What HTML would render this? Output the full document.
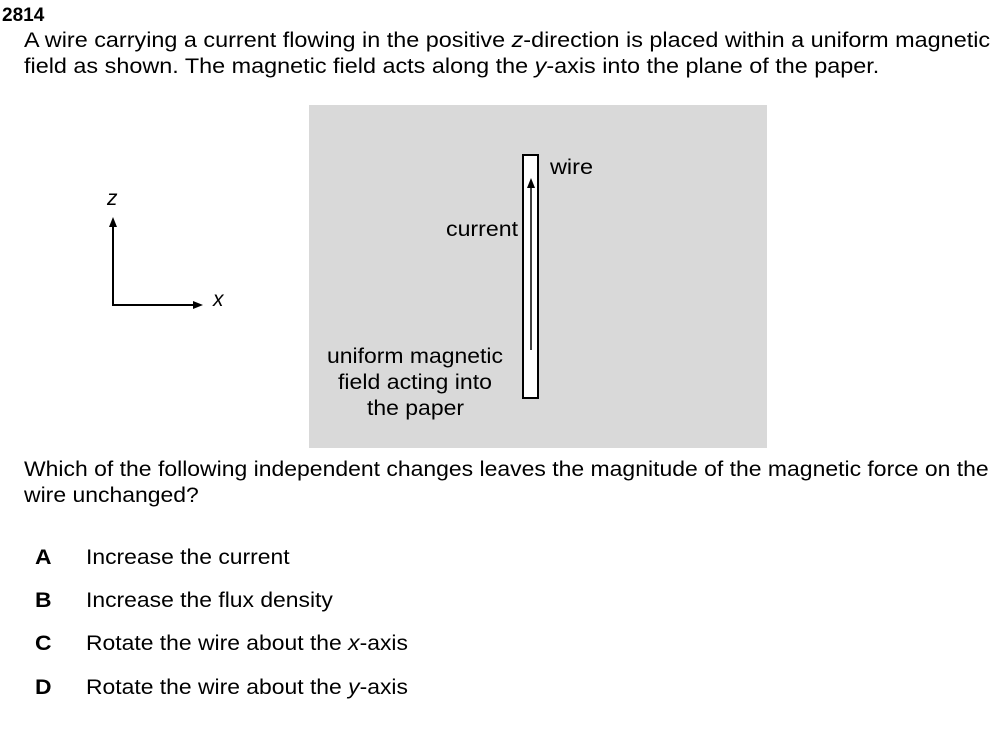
<!DOCTYPE html>
<html><head><meta charset="utf-8"><style>
body{margin:0;width:1001px;height:731px;background:#fff;font-family:"Liberation Sans",Arial,sans-serif;color:#000;position:relative;overflow:hidden}
.t{position:absolute;white-space:nowrap;font-size:21px;line-height:26px;transform:scaleX(1.09);transform-origin:0 0}
</style></head><body>
<div class="t" style="left:2px;top:3px;font-weight:bold;font-size:19px;transform:none">2814</div>
<div class="t" style="left:24px;top:28px;transform:scaleX(1.114)">A wire carrying a current flowing in the positive <i>z</i>-direction is placed within a uniform magnetic<br>field as shown. The magnetic field acts along the <i>y</i>-axis into the plane of the paper.</div>
<svg style="position:absolute;left:0;top:0" width="1001" height="731">
<rect x="309" y="105" width="458" height="343" fill="#d9d9d9"/>
<rect x="523" y="155" width="15" height="243" fill="#fff" stroke="#000" stroke-width="2"/>
<line x1="531" y1="350" x2="531" y2="184" stroke="#000" stroke-width="1.5"/>
<polygon points="531,178 527,188 535,188" fill="#000"/>
<line x1="113" y1="305" x2="113" y2="224" stroke="#000" stroke-width="2"/>
<polygon points="113,217 109,227 117,227" fill="#000"/>
<line x1="112" y1="305" x2="196" y2="305" stroke="#000" stroke-width="2"/>
<polygon points="203,305 193,301 193,309" fill="#000"/>
<text x="107" y="205" font-family="Liberation Sans" font-style="italic" font-size="21">z</text>
<text x="213" y="306" font-family="Liberation Sans" font-style="italic" font-size="21">x</text>
<text x="550" y="174" font-family="Liberation Sans" font-size="21" textLength="43" lengthAdjust="spacingAndGlyphs">wire</text>
<text x="446" y="236" font-family="Liberation Sans" font-size="21" textLength="72" lengthAdjust="spacingAndGlyphs">current</text>
<text x="327" y="363" font-family="Liberation Sans" font-size="21" textLength="176" lengthAdjust="spacingAndGlyphs">uniform magnetic</text>
<text x="338" y="389" font-family="Liberation Sans" font-size="21" textLength="154" lengthAdjust="spacingAndGlyphs">field acting into</text>
<text x="367" y="415" font-family="Liberation Sans" font-size="21" textLength="97" lengthAdjust="spacingAndGlyphs">the paper</text>
</svg>
<div class="t" style="left:24px;top:457px;transform:scaleX(1.093)">Which of the following independent changes leaves the magnitude of the magnetic force on the<br>wire unchanged?</div>
<div class="t" style="left:35px;top:545px;font-weight:bold">A</div><div class="t" style="left:86px;top:545px">Increase the current</div>
<div class="t" style="left:35px;top:588px;font-weight:bold">B</div><div class="t" style="left:86px;top:588px">Increase the flux density</div>
<div class="t" style="left:35px;top:631px;font-weight:bold">C</div><div class="t" style="left:86px;top:631px">Rotate the wire about the <i>x</i>-axis</div>
<div class="t" style="left:35px;top:675px;font-weight:bold">D</div><div class="t" style="left:86px;top:675px">Rotate the wire about the <i>y</i>-axis</div>
</body></html>
